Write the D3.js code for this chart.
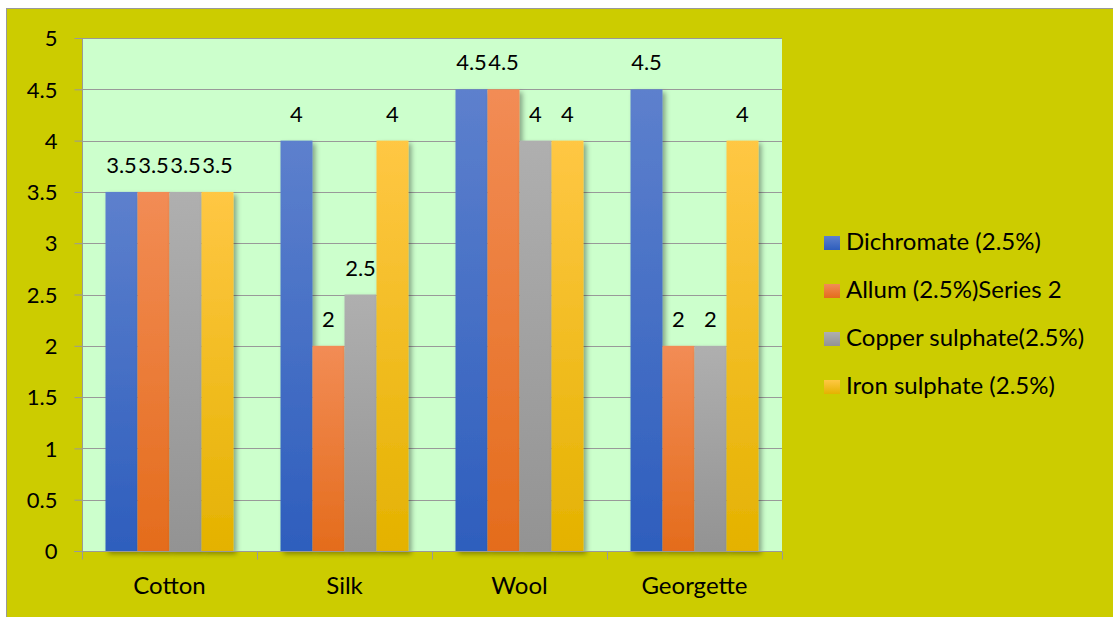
<!DOCTYPE html>
<html>
<head>
<meta charset="utf-8">
<script src="https://cdn.jsdelivr.net/npm/d3@7"></script>
<style>
  body { margin: 0; background: #fff; }
  svg { display: block; }
  text { font-family: Lato, "Open Sans", sans-serif; fill: #000; }
</style>
</head>
<body>
<div id="chart"></div>
<script>
// values
var categories = ["Cotton", "Silk", "Wool", "Georgette"];
var seriesNames = ["Dichromate (2.5%)", "Allum (2.5%)Series 2", "Copper sulphate(2.5%)", "Iron sulphate (2.5%)"];
var dichromate = [3.5, 4, 4.5, 4.5];
var allum = [3.5, 2, 4.5, 2];
var copper = [3.5, 2.5, 4, 2];
var iron = [3.5, 4, 4, 4];
var yTicks = [0, 0.5, 1, 1.5, 2, 2.5, 3, 3.5, 4, 4.5, 5];

(function() {
var seriesValues = [dichromate, allum, copper, iron];
var colors = [
  {top: "#5d80cd", bottom: "#2e5ebd"},
  {top: "#f28c55", bottom: "#e46c1c"},
  {top: "#afafaf", bottom: "#939393"},
  {top: "#ffc744", bottom: "#e4b200"}
];

var width = 1113, height = 617;
var plotLeft = 82, plotRight = 782, plotTop = 38, plotBottom = 551;

var svg = d3.select("#chart").append("svg")
    .attr("width", width)
    .attr("height", height);

var defs = svg.append("defs");
colors.forEach(function(c, i) {
  var g = defs.append("linearGradient")
      .attr("id", "grad" + i)
      .attr("x1", 0).attr("y1", 0).attr("x2", 0).attr("y2", 1);
  g.append("stop").attr("offset", "0%").attr("stop-color", c.top);
  g.append("stop").attr("offset", "100%").attr("stop-color", c.bottom);
});
var shadow = defs.append("filter").attr("id", "shadow")
    .attr("x", "-20%").attr("y", "-5%").attr("width", "160%").attr("height", "115%");
shadow.append("feDropShadow")
    .attr("dx", 3).attr("dy", 3).attr("stdDeviation", 2.5)
    .attr("flood-color", "#000").attr("flood-opacity", 0.35);

// chart background + border
svg.append("rect")
    .attr("x", 6.5).attr("y", 8.5)
    .attr("width", width).attr("height", height)
    .attr("fill", "#cccc00")
    .attr("stroke", "#999").attr("stroke-width", 1);

// plot area
svg.append("rect")
    .attr("x", plotLeft).attr("y", plotTop)
    .attr("width", plotRight - plotLeft).attr("height", plotBottom - plotTop)
    .attr("fill", "#ccffcc");

var y = d3.scaleLinear().domain([0, 5]).range([plotBottom, plotTop]);
var x0 = d3.scaleBand().domain(categories).range([plotLeft, plotRight]);
var groupWidth = 128;
var x1 = d3.scaleBand().domain(d3.range(seriesNames.length))
    .range([(x0.bandwidth() - groupWidth) / 2, (x0.bandwidth() + groupWidth) / 2]);

// gridlines
svg.append("g").selectAll("line")
    .data(yTicks.slice(1))
    .enter().append("line")
    .attr("x1", plotLeft).attr("x2", plotRight)
    .attr("y1", function(d) { return Math.round(y(d)) + 0.5; })
    .attr("y2", function(d) { return Math.round(y(d)) + 0.5; })
    .attr("stroke", "#999").attr("stroke-width", 1.2);

// bars
var groups = svg.append("g").selectAll("g")
    .data(categories)
    .enter().append("g")
    .attr("transform", function(d) { return "translate(" + x0(d) + ",0)"; });

groups.selectAll("rect")
    .data(function(d, ci) {
      return seriesValues.map(function(vals, si) { return {s: si, v: vals[ci]}; });
    })
    .enter().append("rect")
    .attr("x", function(d) { return x1(d.s); })
    .attr("y", function(d) { return y(d.v); })
    .attr("width", x1.bandwidth())
    .attr("height", function(d) { return plotBottom - y(d.v); })
    .attr("fill", function(d) { return "url(#grad" + d.s + ")"; })
    .attr("filter", "url(#shadow)");

// data labels
groups.selectAll("text")
    .data(function(d, ci) {
      return seriesValues.map(function(vals, si) { return {s: si, v: vals[ci]}; });
    })
    .enter().append("text")
    .attr("x", function(d) { return x1(d.s) + x1.bandwidth() / 2; })
    .attr("y", function(d) { return y(d.v) - 19; })
    .attr("text-anchor", "middle")
    .style("font-size", "22px")
    .text(function(d) { return d.v; });

// y axis
var yAxis = d3.axisLeft(y).tickValues(yTicks).tickSize(8).tickPadding(17)
    .tickFormat(function(d) { return d; });
var yg = svg.append("g")
    .attr("transform", "translate(" + (plotLeft + 0.5) + ",0)")
    .call(yAxis);
yg.select(".domain").attr("stroke", "#999").attr("d", "M0," + plotTop + "V" + plotBottom);
yg.selectAll(".tick line").attr("stroke", "#999");
yg.selectAll(".tick text").style("font-size", "22px").attr("dy", "0.35em");

// x axis
var xg = svg.append("g")
    .attr("transform", "translate(0," + (plotBottom + 0.5) + ")");
xg.append("line")
    .attr("x1", plotLeft - 8).attr("x2", plotRight)
    .attr("stroke", "#999").attr("stroke-width", 1.2);
xg.selectAll(".xtick")
    .data(d3.range(categories.length + 1))
    .enter().append("line")
    .attr("class", "xtick")
    .attr("x1", function(i) { return Math.round(plotLeft + i * x0.step()) + 0.5; })
    .attr("x2", function(i) { return Math.round(plotLeft + i * x0.step()) + 0.5; })
    .attr("y1", 0).attr("y2", 8)
    .attr("stroke", "#999");
xg.selectAll(".xlabel")
    .data(categories)
    .enter().append("text")
    .attr("class", "xlabel")
    .attr("x", function(d) { return x0(d) + x0.bandwidth() / 2; })
    .attr("y", 42)
    .attr("text-anchor", "middle")
    .style("font-size", "24px")
    .text(function(d) { return d; });

// legend
var legend = svg.append("g").selectAll("g")
    .data(seriesNames)
    .enter().append("g")
    .attr("transform", function(d, i) { return "translate(824," + (236 + i * 48) + ")"; });
legend.append("rect")
    .attr("width", 16).attr("height", 14)
    .attr("fill", function(d, i) { return "url(#grad" + i + ")"; });
legend.append("text")
    .attr("x", 22).attr("y", 14)
    .style("font-size", "24px")
    .text(function(d) { return d; });
})();
</script>
</body>
</html>
